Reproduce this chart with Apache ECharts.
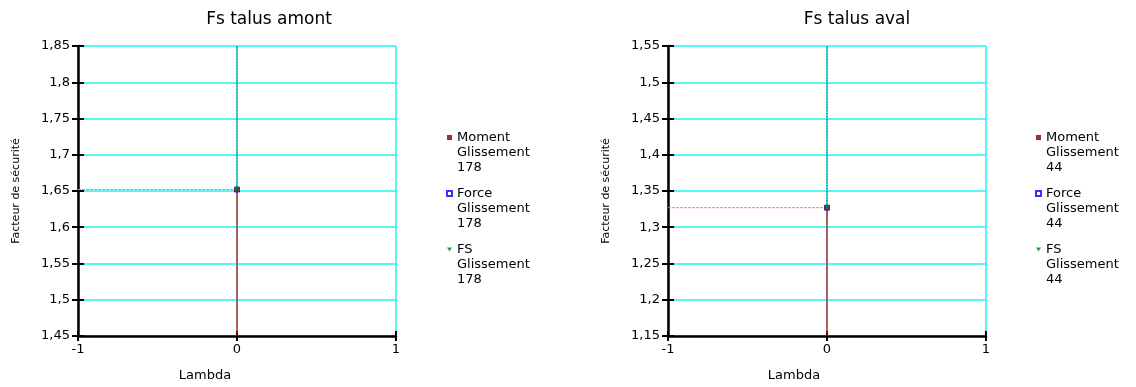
<!DOCTYPE html>
<html><head><meta charset="utf-8">
<script src="https://cdn.jsdelivr.net/npm/echarts@6/dist/echarts.min.js"></script>
<style>html,body{margin:0;padding:0;background:#fff}#c{width:1136px;height:387px}</style>
</head><body><div id="c"></div>
<script>
// ---- data ----
const chartTitles = ['Fs talus amont', 'Fs talus aval'];
const seriesNames = ['Moment', 'Force', 'FS'];
const slipLabels = ['178', '44'];
const lambdaValues = [0, 0];
const fsAmont = [1.652, 1.652, 1.652];   // Moment, Force, FS
const fsAval = [1.327, 1.327, 1.327];
const yMins = [1.45, 1.15];
const yMaxs = [1.85, 1.55];
const yStep = 0.05;
const xMin = -1, xMax = 1, xStep = 1;
const xName = 'Lambda';
const yName = 'Facteur de sécurité';

// ---- layout ----
const FONT = 'DejaVu Sans';
const layouts = [
  {left: 78, right: 1136 - 396, titleX: 264, legendX: 441, nameShift: 64},
  {left: 668, right: 1136 - 986, titleX: 852, legendX: 1030, nameShift: 66}
];
const allValues = [fsAmont, fsAval];
const colors = ['#800000', '#0000ff', '#008000'];
const symbols = ['rect', 'rect', 'path://M0,0 L10,0 L5,8 Z'];
const zOrder = [6, 5, 7];

const fmt = v => String(Math.round(v * 100) / 100).replace('.', ',');

const option = {
  animation: false,
  backgroundColor: '#fff',
  title: [], legend: [], grid: [], xAxis: [], yAxis: [], series: []
};

function guide(k, pts, color, type, w) {
  return {
    type: 'line', xAxisIndex: 2 * k, yAxisIndex: 2 * k, data: pts,
    showSymbol: false, silent: true, z: 3,
    lineStyle: {color: color, width: w, type: type}
  };
}

layouts.forEach((L, k) => {
  option.title.push({
    text: chartTitles[k], left: L.titleX, top: 6, textAlign: 'center',
    textStyle: {fontFamily: FONT, fontSize: 17, fontWeight: 'normal', color: '#000'}
  });
  option.grid.push({left: L.left, right: L.right, top: 46, bottom: 50, containLabel: false});
  const xBase = {
    gridIndex: k, type: 'value', min: xMin, max: xMax, interval: xStep, position: 'bottom'
  };
  option.xAxis.push(Object.assign({}, xBase, {
    name: xName, nameLocation: 'middle', nameGap: 33,
    nameTextStyle: {fontFamily: FONT, fontSize: 13, color: '#000', padding: [0, L.nameShift, 0, 0]},
    axisLine: {show: true, onZero: false, lineStyle: {color: '#000', width: 2.5}},
    axisTick: {show: true, length: 5, lineStyle: {color: '#000', width: 2}},
    axisLabel: {fontFamily: FONT, fontSize: 13, color: '#000', margin: 7, formatter: fmt},
    splitLine: {show: true, lineStyle: {color: '#22f0f0', width: 1.5}}
  }));
  option.xAxis.push(Object.assign({}, xBase, {
    axisLine: {show: false, onZero: false}, axisLabel: {show: false}, splitLine: {show: false},
    axisTick: {show: true, inside: true, length: 5, lineStyle: {color: '#000', width: 2}}
  }));
  const yBase = {gridIndex: k, type: 'value', min: yMins[k], max: yMaxs[k], interval: yStep, position: 'left'};
  option.yAxis.push(Object.assign({}, yBase, {
    name: yName, nameLocation: 'middle', nameGap: 56,
    nameTextStyle: {fontFamily: FONT, fontSize: 11, color: '#000'},
    axisLine: {show: true, onZero: false, lineStyle: {color: '#000', width: 2.5}},
    axisTick: {show: true, length: 6, lineStyle: {color: '#000', width: 2}},
    axisLabel: {fontFamily: FONT, fontSize: 13, color: '#000', margin: 8, formatter: fmt},
    splitLine: {show: true, lineStyle: {color: '#22f0f0', width: 1.5}}
  }));
  option.yAxis.push(Object.assign({}, yBase, {
    axisLine: {show: false, onZero: false}, axisLabel: {show: false}, splitLine: {show: false},
    axisTick: {show: true, inside: true, length: 6, lineStyle: {color: '#000', width: 2}}
  }));

  const vals = allValues[k];
  const lam = lambdaValues[k];
  const names = seriesNames.map(n => n + '\nGlissement\n' + slipLabels[k]);
  option.legend.push({
    data: names, orient: 'vertical', left: L.legendX, top: 95,
    itemWidth: 5, itemHeight: 5, itemGap: -19,
    formatter: n => '\n\n' + n,
    textStyle: {fontFamily: FONT, fontSize: 13, color: '#000', lineHeight: 15},
    selectedMode: false
  });
  // guide lines from the Moment point to the axes
  option.series.push(guide(k, [[xMin, vals[0]], [lam, vals[0]]], '#ff7a7a', [3, 1], 1));
  option.series.push(guide(k, [[lam, yMins[k]], [lam, vals[0]]], '#e00000', 'solid', 1.2));
  option.series.push(guide(k, [[lam, vals[0]], [lam, yMaxs[k]]], '#006a6a', [2, 1], 1));

  [0, 1, 2].forEach(i => {
    option.series.push({
      name: names[i], type: 'scatter', xAxisIndex: 2 * k, yAxisIndex: 2 * k,
      symbol: symbols[i], symbolSize: i === 2 ? [6, 5] : 5,
      data: [[lam, vals[i]]],
      itemStyle: i === 1 ? {color: '#fff', borderColor: colors[i], borderWidth: 1} : {color: colors[i]},
      z: zOrder[i]
    });
  });
});

const chart = echarts.init(document.getElementById('c'), null, {renderer: 'canvas'});
chart.setOption(option);
</script>
</body></html>
